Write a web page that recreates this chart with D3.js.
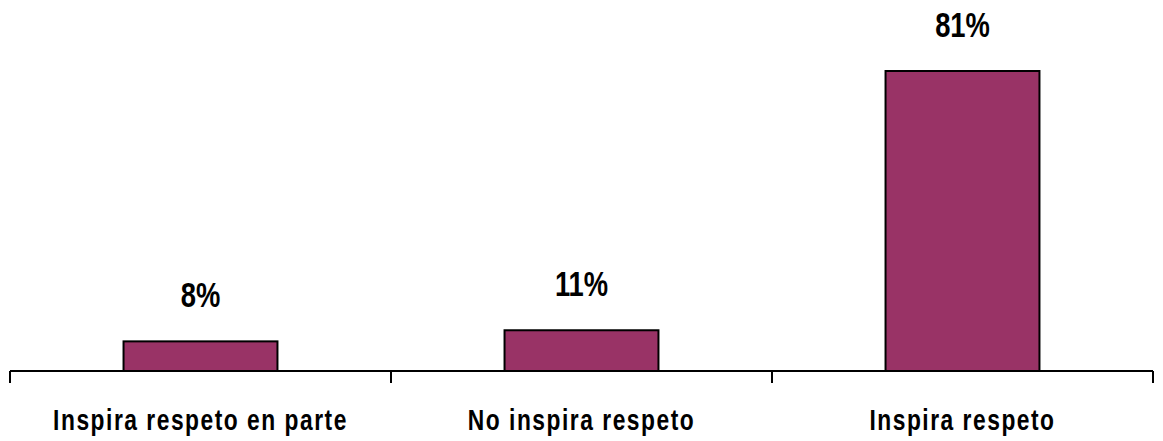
<!DOCTYPE html>
<html>
<head>
<meta charset="utf-8">
<script src="https://cdn.jsdelivr.net/npm/d3@7"></script>
<style>
  body { margin: 0; background: #fff; }
  .val { font-family: "Liberation Sans", Arial, sans-serif; font-weight: bold; font-size: 36px; }
  .cat { font-family: "Liberation Sans", Arial, sans-serif; font-weight: bold; font-size: 30px; letter-spacing: 2px; }
</style>
</head>
<body>
<div class="chart"></div>
<script>
// data
var categories = ["Inspira respeto en parte", "No inspira respeto", "Inspira respeto"];
var values = [8, 11, 81];
var valueLabels = ["8%", "11%", "81%"];

var svgWidth = 1163;
var svgHeight = 441;

var svg = d3.select(".chart")
    .append("svg")
    .attr("width", svgWidth)
    .attr("height", svgHeight);

var left = 10, right = 1153, baseY = 371;
// narrow look: squeeze text horizontally
var narrow = 0.76;

// band scale for the tick positions (no padding)
var xTicks = d3.scaleBand()
    .domain(categories)
    .range([left, right])
    .padding(0);

// band scale for the bars
var x = d3.scaleBand()
    .domain(categories)
    .range([left, right])
    .paddingInner(0.596)
    .paddingOuter(0.298);

var y = d3.scaleLinear()
    .domain([0, 81])
    .range([baseY, 71]);

var data = categories.map(function(c, i) {
    return {cat: c, value: values[i], label: valueLabels[i]};
});

// bars
svg.selectAll(".bar")
    .data(data)
    .enter()
    .append("rect")
    .attr("class", "bar")
    .attr("x", function(d) { return x(d.cat); })
    .attr("y", function(d) { return y(d.value); })
    .attr("width", x.bandwidth())
    .attr("height", function(d) { return baseY - y(d.value); })
    .style("fill", "#993366")
    .style("stroke", "#000")
    .style("stroke-width", 2);

// axis line and ticks
var axis = svg.append("g");
axis.append("line")
    .attr("x1", left).attr("x2", right)
    .attr("y1", baseY).attr("y2", baseY)
    .style("stroke", "#000")
    .style("stroke-width", 2);

var tickPos = categories.map(function(c) { return xTicks(c); });
tickPos.push(xTicks.range()[1]);
axis.selectAll(".tick")
    .data(tickPos)
    .enter()
    .append("line")
    .attr("class", "tick")
    .attr("x1", function(d) { return d; })
    .attr("x2", function(d) { return d; })
    .attr("y1", baseY)
    .attr("y2", baseY + 12)
    .style("stroke", "#000")
    .style("stroke-width", 2);

// value labels
svg.selectAll(".val")
    .data(data)
    .enter()
    .append("text")
    .attr("class", "val")
    .attr("transform", function(d) {
        return "translate(" + (x(d.cat) + x.bandwidth() / 2) + "," + (y(d.value) - 34) + ") scale(" + narrow + ",1)";
    })
    .attr("text-anchor", "middle")
    .text(function(d) { return d.label; });

// category labels
svg.selectAll(".cat")
    .data(data)
    .enter()
    .append("text")
    .attr("class", "cat")
    .attr("transform", function(d) {
        return "translate(" + (xTicks(d.cat) + xTicks.bandwidth() / 2) + ",430) scale(" + narrow + ",1)";
    })
    .attr("text-anchor", "middle")
    .text(function(d) { return d.cat; });
</script>
</body>
</html>
